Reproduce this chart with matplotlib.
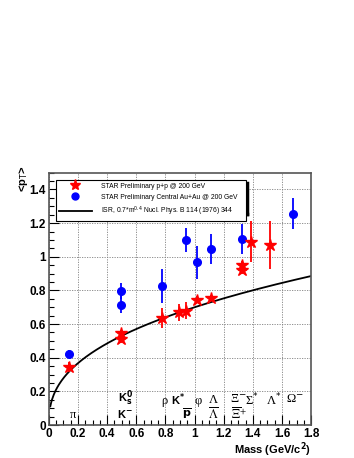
import numpy as np
import matplotlib.pyplot as plt
from matplotlib.lines import Line2D

# ------------------------------------------------------------
# <pT> vs particle mass, STAR preliminary
# ------------------------------------------------------------
# p+p @ 200 GeV (red stars)
pp_mass = [0.14, 0.497, 0.497, 0.775, 0.892, 0.938, 1.02, 1.116, 1.322, 1.322, 1.385, 1.52]
pp_mpt = [0.345, 0.545, 0.51, 0.635, 0.67, 0.68, 0.745, 0.755, 0.953, 0.92, 1.09, 1.07]
pp_err = [0.03, 0.02, 0.02, 0.06, 0.05, 0.05, 0.02, 0.02, 0.02, 0.02, 0.12, 0.14]

# Central Au+Au @ 200 GeV (blue circles)
au_mass = [0.14, 0.497, 0.497, 0.775, 0.938, 1.02, 1.116, 1.322, 1.672]
au_mpt = [0.425, 0.797, 0.715, 0.826, 1.10, 0.967, 1.045, 1.105, 1.257]
au_err = [0.02, 0.05, 0.05, 0.10, 0.07, 0.10, 0.09, 0.09, 0.09]

# ISR parametrisation 0.7*m^0.4
isr_m = np.linspace(0.01, 1.8, 300)
isr_pt = 0.7 * isr_m ** 0.4

plt.rcParams['font.family'] = ['Liberation Sans', 'DejaVu Sans']

fig = plt.figure(figsize=(3.54, 4.58), dpi=100)
ax = fig.add_axes([0.138, 0.072, 0.741, 0.551])

ax.plot(isr_m, isr_pt, color="black", lw=1.3, zorder=2)
ax.errorbar(au_mass, au_mpt, yerr=au_err, fmt="o", color="blue", ms=5.5,
            elinewidth=1.3, capsize=0, zorder=3)
ax.errorbar(pp_mass, pp_mpt, yerr=pp_err, fmt="*", color="red", ms=9,
            elinewidth=1.3, capsize=0, zorder=4)

ax.set_xlim(0, 1.8)
ax.set_ylim(0, 1.5)
ax.set_xticks(np.arange(0, 1.81, 0.2))
ax.set_xticklabels(["0", "0.2", "0.4", "0.6", "0.8", "1", "1.2", "1.4", "1.6", "1.8"])
ax.set_yticks(np.arange(0, 1.41, 0.2))
ax.set_yticklabels(["0", "0.2", "0.4", "0.6", "0.8", "1", "1.2", "1.4"])
ax.set_xticks(np.arange(0, 1.81, 0.05), minor=True)
ax.set_yticks(np.arange(0, 1.51, 0.05), minor=True)
ax.tick_params(which="major", direction="in", length=7, width=0.8,
               labelsize=8.5, pad=2)
ax.tick_params(which="minor", direction="in", length=3.5, width=0.8)
for lab in ax.get_xticklabels() + ax.get_yticklabels():
    lab.set_fontweight("bold")
ax.grid(True, which="major", linestyle=(0, (1.5, 1.5)), color="gray", lw=0.6)
for s in ax.spines.values():
    s.set_color("#555555")
    s.set_linewidth(1.2)

ax.text(1.0, -0.062, "Mass (GeV/c$^{\\mathbf{2}}$)", transform=ax.transAxes,
        ha="right", va="top", fontsize=8, fontweight="bold")
ax.text(-0.07, 0.975, "<p$_\\mathrm{T}$>", transform=ax.transAxes, rotation=90,
        ha="right", va="center", fontsize=8, fontweight="bold")

# particle labels
serif = {"family": "Liberation Serif", "fontsize": 9, "va": "center", "ha": "center"}
sans = {"fontweight": "bold", "fontsize": 8, "va": "center", "ha": "center"}
stix = {"fontsize": 9, "math_fontfamily": "stix", "va": "center", "ha": "center"}
ax.text(0.165, 0.06, "π", **serif)
ax.text(0.525, 0.16, "K$_\\mathbf{s}^\\mathbf{0}$", **sans)
ax.text(0.52, 0.065, "K$^\\mathbf{-}$", **sans)
ax.text(0.79, 0.14, "ρ", **serif)
ax.text(0.885, 0.148, "K$^\\mathbf{*}$", **sans)
ax.text(0.95, 0.065, "$\\overline{\\mathbf{p}}$", **sans)
ax.text(1.025, 0.14, "φ", **serif)
ax.text(1.13, 0.15, "Λ", **serif)
ax.text(1.13, 0.06, "$\\overline{\\Lambda}$", **stix)
ax.text(1.30, 0.15, "Ξ$^{-}$", **serif)
ax.text(1.305, 0.065, "$\\overline{\\Xi}^{+}$", **stix)
ax.text(1.395, 0.15, "Σ$^{*}$", **serif)
ax.text(1.54, 0.15, "Λ$^{*}$", **serif)
ax.text(1.685, 0.15, "Ω$^{-}$", **serif)

# legend with ROOT-like shadow
handles = [
    Line2D([], [], marker="*", color="red", ls="none", ms=8),
    Line2D([], [], marker="o", color="blue", ls="none", ms=5),
    Line2D([], [], color="black", lw=1.3),
]
labels = [
    "STAR Preliminary p+p @ 200 GeV",
    "STAR Preliminary Central Au+Au @ 200 GeV",
    "ISR, 0.7*m$^{0.4}$ Nucl. Phys. B 114 (1976) 344",
]
leg = ax.legend(handles, labels, loc="upper left",
                bbox_to_anchor=(0.027, 0.841, 0.723, 0.131), mode="expand",
                fontsize=4.9, fancybox=False, framealpha=1, edgecolor="black",
                borderpad=0.45, labelspacing=0.55, handlelength=4.8,
                handletextpad=1.4, borderaxespad=0)
leg.get_frame().set_linewidth(0.8)
leg.set_zorder(6)
ax.plot([0.04, 0.757], [0.836, 0.836], transform=ax.transAxes, color="black",
        lw=2.5, zorder=5, clip_on=False)
ax.plot([0.754, 0.754], [0.836, 0.96], transform=ax.transAxes, color="black",
        lw=2.5, zorder=5, clip_on=False)

fig.savefig("out.png", dpi=100)
